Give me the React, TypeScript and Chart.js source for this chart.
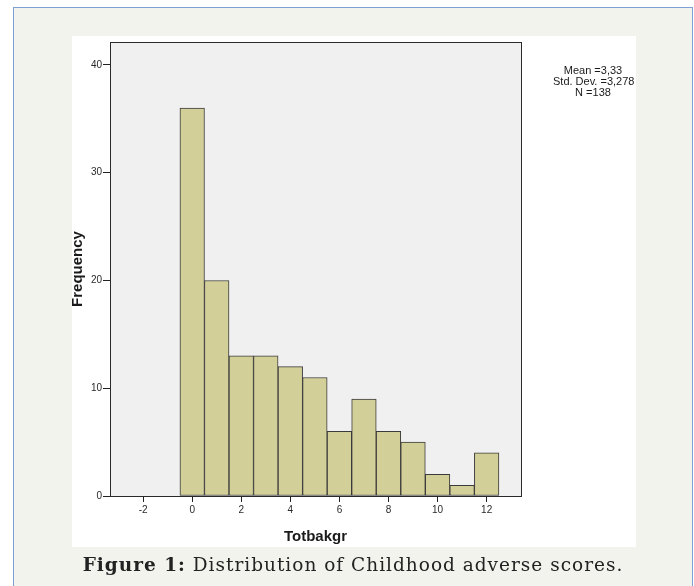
import React, { useEffect, useRef } from "react";
import { Chart, registerables } from "chart.js";

Chart.register(...registerables);

const SCORES = [0, 1, 2, 3, 4, 5, 6, 7, 8, 9, 10, 11, 12];
const FREQUENCIES = [36, 20, 13, 13, 12, 11, 6, 9, 6, 5, 2, 1, 4];
const X_TICKS = [-2, 0, 2, 4, 6, 8, 10, 12];
const Y_TICKS = [0, 10, 20, 30, 40];
const STATS = ["Mean =3,33", "Std. Dev. =3,278", "N =138"];

const plotFrame = {
  id: "plotFrame",
  beforeDraw(chart: any) {
    const { ctx, chartArea: a } = chart;
    ctx.save();
    ctx.fillStyle = "#f0f0f0";
    ctx.fillRect(a.left, a.top, a.right - a.left, a.bottom - a.top);
    ctx.restore();
  },
  afterDatasetsDraw(chart: any) {
    const { ctx, chartArea: a } = chart;
    ctx.save();
    ctx.strokeStyle = "#2a2a2a";
    ctx.lineWidth = 1;
    ctx.strokeRect(Math.round(a.left) + 0.5, Math.round(a.top) + 0.5, Math.round(a.right - a.left), Math.round(a.bottom - a.top));
    ctx.restore();
  },
};

export default function App() {
  const ref = useRef<HTMLCanvasElement>(null);
  useEffect(() => {
    document.body.style.margin = "0";
    document.body.style.background = "#ffffff";
    const chart = new Chart(ref.current!, {
      type: "bar",
      data: {
        datasets: [
          {
            data: SCORES.map((s, i) => ({ x: s, y: FREQUENCIES[i] })),
            backgroundColor: "#d3cf98",
            borderColor: "#3a3a3a",
            borderWidth: 1,
            borderSkipped: false,
            barPercentage: 1,
            categoryPercentage: 1,
          } as any,
        ],
      },
      options: {
        animation: false,
        responsive: false,
        maintainAspectRatio: false,
        layout: { padding: { left: 70.5, top: 42, right: 173, bottom: 39 } },
        plugins: { legend: { display: false }, tooltip: { enabled: false } },
        scales: {
          x: {
            type: "linear",
            min: -3.35,
            max: 13.4,
            offset: false,
            afterBuildTicks: (s: any) => {
              s.ticks = X_TICKS.map((value) => ({ value }));
            },
            afterFit: (s: any) => {
              s.height = 51;
            },
            grid: { offset: false, drawOnChartArea: false, drawTicks: true, tickLength: 6, tickWidth: 1, tickColor: "#222222" },
            border: { display: true, color: "#2a2a2a" },
            ticks: {
              padding: 2,
              maxRotation: 0,
              autoSkip: false,
              color: "#2a2a2a",
              font: { family: "'Liberation Sans', Arial, sans-serif", size: 10 },
            },
            title: {
              display: true,
              text: "Totbakgr",
              color: "#1a1a1a",
              padding: { top: 0, bottom: 2.5 },
              font: { family: "'Liberation Sans', Arial, sans-serif", size: 15, weight: "bold", lineHeight: 1 },
            },
          },
          y: {
            type: "linear",
            min: 0,
            max: 42.13,
            afterBuildTicks: (s: any) => {
              s.ticks = Y_TICKS.map((value) => ({ value }));
            },
            afterFit: (s: any) => {
              s.width = 39.5;
            },
            grid: { offset: false, drawOnChartArea: false, drawTicks: true, tickLength: 7, tickWidth: 1, tickColor: "#222222" },
            border: { display: true, color: "#2a2a2a" },
            ticks: {
              padding: 1,
              color: "#2a2a2a",
              font: { family: "'Liberation Sans', Arial, sans-serif", size: 10 },
            },
            title: {
              display: true,
              text: "Frequency",
              color: "#1a1a1a",
              padding: 0,
              font: { family: "'Liberation Sans', Arial, sans-serif", size: 15, weight: "bold", lineHeight: 1 },
            },
          },
        },
      },
      plugins: [plotFrame],
    });
    return () => chart.destroy();
  }, []);

  return (
    <div style={{ position: "relative", width: 694, height: 586, overflow: "hidden", background: "#ffffff" }}>
      <div
        style={{
          position: "absolute",
          left: 13,
          top: 7,
          width: 678,
          height: 600,
          border: "1px solid #7f9fd4",
          background: "#f3f3ee",
        }}
      />
      <div style={{ position: "absolute", left: 72, top: 36, width: 564, height: 511, background: "#ffffff" }} />
      <canvas ref={ref} width={694} height={586} style={{ position: "absolute", left: 0, top: 0, width: 694, height: 586 }} />
      <div
        style={{
          position: "absolute",
          left: 553,
          top: 64.5,
          width: 80,
          textAlign: "center",
          fontFamily: "'Liberation Sans', Arial, sans-serif",
          fontSize: 11,
          lineHeight: "11px",
          color: "#1a1a1a",
          whiteSpace: "nowrap",
        }}
      >
        {STATS.map((t) => (
          <div key={t}>{t}</div>
        ))}
      </div>
      <div
        style={{
          position: "absolute",
          left: 14,
          width: 678,
          top: 552,
          textAlign: "center",
          fontFamily: "'DejaVu Serif', serif",
          fontSize: 18.5,
          letterSpacing: 1,
          lineHeight: "26px",
          color: "#222222",
          whiteSpace: "nowrap",
        }}
      >
        <b>Figure 1:</b> Distribution of Childhood adverse scores.
      </div>
    </div>
  );
}
